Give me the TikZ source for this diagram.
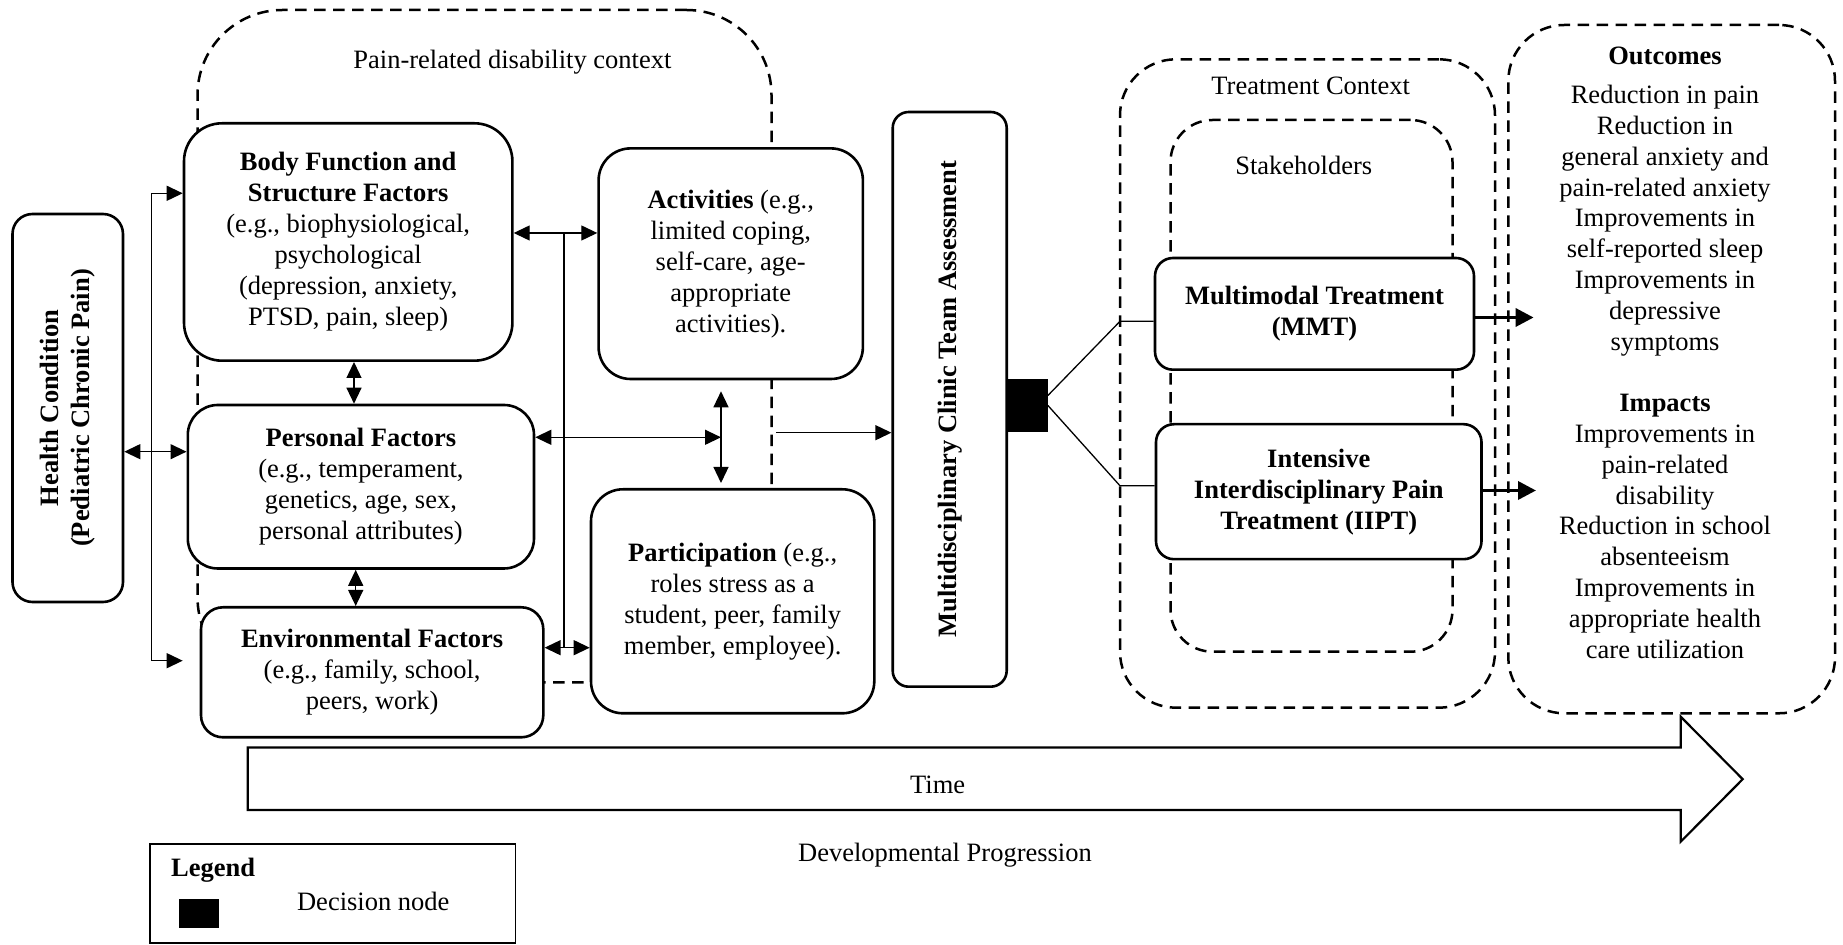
\documentclass[tikz,border=0pt]{standalone}
\usepackage{fontspec}
\setmainfont{Liberation Serif}
\usetikzlibrary{arrows.meta}
\begin{document}
\begin{tikzpicture}[x=0.5pt,y=-0.5pt,
  font=\fontsize{13.25}{15.5}\selectfont,
  box/.style={draw, line width=1.3pt, fill=white, align=center, inner sep=0pt},
  ctx/.style={draw, line width=1.25pt, dash pattern=on 5.75pt off 3.75pt, inner sep=0pt},
  conn/.style={line width=0.65pt},
  arr/.style={conn, -{Triangle[length=8pt,width=7.5pt]}},
  dbl/.style={conn, {Triangle[length=8pt,width=7.5pt]}-{Triangle[length=8pt,width=7.5pt]}},
  heavy/.style={line width=1.75pt, -{Triangle[length=9pt,width=9pt]}},
  lbl/.style={inner sep=0pt, align=center}
]
\useasboundingbox (0,0) rectangle (1843,945);

% dashed context frames
\node[ctx, rounded corners=42.5pt, minimum width=287pt, minimum height=336.15pt] (painctx) at (484.5,346.15) {};
\node[ctx, rounded corners=28pt, minimum width=187.5pt, minimum height=324.2pt] (treatctx) at (1307.5,383.5) {};
\node[ctx, rounded corners=21pt, minimum width=141pt, minimum height=265.85pt] (stakectx) at (1311.5,385.85) {};
\node[ctx, rounded corners=28pt, minimum width=163.35pt, minimum height=344.15pt] (outctx) at (1671.65,369.15) {};

\node[lbl] (painlbl) at (512.4,61.7) {Pain-related disability context};
\node[lbl] (treatlbl) at (1310.7,86) {Treatment Context};
\node[lbl] (stakelbl) at (1303.7,165.7) {Stakeholders};

% main boxes
\node[box, rounded corners=10pt, minimum width=55.25pt, minimum height=194pt] (health) at (67.75,408)
  {\rotatebox{90}{\bfseries\begin{tabular}{@{}c@{}}Health Condition\\(Pediatric Chronic Pain)\end{tabular}}};
\node[box, rounded corners=19pt, minimum width=164.2pt, minimum height=118.7pt] (body) at (348.2,242)
  {\textbf{Body Function and}\\\textbf{Structure Factors}\\(e.g., biophysiological,\\psychological\\(depression, anxiety,\\PTSD, pain, sleep)};
\node[box, rounded corners=15pt, minimum width=173.1pt, minimum height=81.75pt] (personal) at (360.9,486.75)
  {\textbf{Personal Factors}\\(e.g., temperament,\\genetics, age, sex,\\personal attributes)};
\node[box, rounded corners=11pt, minimum width=171.15pt, minimum height=65pt] (env) at (372.15,672.3)
  {\textbf{Environmental Factors}\\(e.g., family, school,\\peers, work)};
\node[box, rounded corners=16pt, minimum width=132.15pt, minimum height=115.3pt] (activities) at (730.75,263.7)
  {\textbf{Activities} (e.g.,\\limited coping,\\self-care, age-\\appropriate\\activities).};
\node[box, rounded corners=16pt, minimum width=141.65pt, minimum height=112pt] (participation) at (732.65,601.3)
  {\textbf{Participation} (e.g.,\\roles stress as a\\student, peer, family\\member, employee).};
\node[box, rounded corners=8pt, minimum width=57pt, minimum height=287.35pt] (multi) at (949.7,399.35)
  {\rotatebox{90}{\bfseries Multidisciplinary Clinic Team Assessment}};
\node[fill=black, inner sep=0pt, minimum width=20.75pt, minimum height=26.5pt] (decision) at (1026.75,405.5) {};
\node[box, rounded corners=9pt, minimum width=159.5pt, minimum height=55.85pt] (mmt) at (1314.5,313.85)
  {\textbf{Multimodal Treatment}\\\textbf{(MMT)}};
\node[box, rounded corners=9pt, minimum width=162.75pt, minimum height=67.5pt] (iipt) at (1318.75,491.7)
  {\textbf{Intensive}\\\textbf{Interdisciplinary Pain}\\\textbf{Treatment (IIPT)}};

% outcomes and impacts
\node[lbl, font=\fontsize{13.25}{15.4}\selectfont] (outtext) at (1665,352.85)
  {\textbf{Outcomes}\\[4pt]
   Reduction in pain\\Reduction in\\general anxiety and\\pain-related anxiety\\Improvements in\\
   self-reported sleep\\Improvements in\\depressive\\symptoms\\[15.4pt]
   \textbf{Impacts}\\Improvements in\\pain-related\\disability\\Reduction in school\\absenteeism\\
   Improvements in\\appropriate health\\care utilization};

% connectors on the left
\coordinate (yHP) at (0,451.7);
\draw[dbl] (health.east |- yHP) -- (personal.west |- yHP);

\coordinate (lbT) at (151.7,193.3);
\coordinate (lbB) at (151.7,660.7);
\draw[conn] (lbT) -- (lbB);
\draw[arr] (lbT) -- (body.west |- lbT);
\draw[arr] (lbB) -- ([xshift=-8.5pt]env.west |- lbB);

\coordinate (xBP) at (354,0);
\draw[dbl] (body.south -| xBP) -- (personal.north -| xBP);
\coordinate (xPE) at (355.7,0);
\draw[dbl] (personal.south -| xPE) -- (env.north -| xPE);

\coordinate (busT) at (564,233);
\coordinate (busB) at (564,647.7);
\draw[dbl] (body.east |- busT) -- (activities.west |- busT);
\draw[conn] (busT) -- (busB);
\draw[dbl] (env.east |- busB) -- (participation.west |- busB);

\coordinate (pj) at (721,437.3);
\draw[dbl] (personal.east |- pj) -- (pj);
\draw[dbl, shorten <=5.5pt, shorten >=2.5pt] (activities.south -| pj) -- (participation.north -| pj);

\coordinate (ctxout) at (776,432.7);
\draw[arr] (ctxout) -- (multi.west |- ctxout);

% decision branches
\coordinate (tU) at (1120,321.3);
\coordinate (tL) at (1120,485.8);
\draw[conn] ([yshift=5pt]decision.east) -- (tU) -- (mmt.west |- tU);
\draw[conn] (decision.east) -- (tL) -- (iipt.west |- tL);

\coordinate (oM) at (1533.6,317.5);
\coordinate (oI) at (1536,490.5);
\draw[heavy] (mmt.east |- oM) -- (oM);
\draw[heavy] (iipt.east |- oI) -- (oI);

% time arrow
\draw[line width=1.1pt] (247.7,747.5) -- (1680.7,747.5) -- (1680.7,716.7) -- (1742.7,779.2)
  -- (1680.7,841.7) -- (1680.7,810) -- (247.7,810) -- cycle;
\node[lbl] (time) at (937.7,785) {Time};
\node[lbl] (devprog) at (945,855) {Developmental Progression};

% legend
\node[draw, line width=0.7pt, inner sep=0pt, minimum width=182.85pt, minimum height=49.5pt] (legend) at (332.85,893.5) {};
\node[lbl, anchor=west] (legendlbl) at (170.7,870.7) {\textbf{Legend}};
\node[fill=black, inner sep=0pt, minimum width=20pt, minimum height=14.5pt] (legendsq) at (199.3,913.8) {};
\node[lbl, anchor=west] (legendtxt) at (296.7,901.7) {Decision node};
\end{tikzpicture}
\end{document}
